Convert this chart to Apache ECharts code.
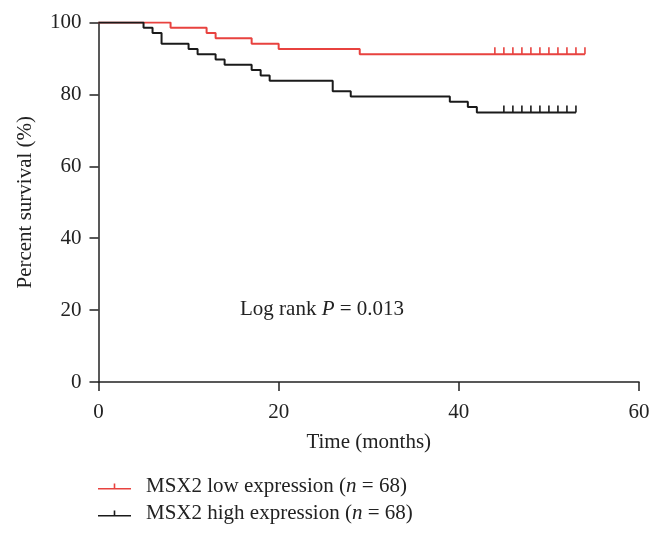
<!DOCTYPE html>
<html>
<head>
<meta charset="utf-8">
<script src="https://cdn.jsdelivr.net/npm/echarts@6/dist/echarts.min.js"></script>
<style>html,body{margin:0;padding:0;background:#fff}#c{width:662px;height:534px}</style>
</head>
<body>
<div id="c"></div>
<script>
// ---- data ----
const lowTimes = [0, 8, 12, 13, 17, 20, 29, 54];
const lowSurv  = [100, 98.53, 97.06, 95.59, 94.12, 92.65, 91.18, 91.18];
const lowCensor = [44, 45, 46, 47, 48, 49, 50, 51, 52, 53, 54];

const highTimes = [0, 5, 6, 7, 10, 11, 13, 14, 17, 18, 19, 26, 28, 39, 41, 42, 53];
const highSurv  = [100, 98.53, 97.06, 94.12, 92.65, 91.18, 89.71, 88.24, 86.76, 85.29, 83.82, 80.88, 79.41, 77.94, 76.47, 75.0, 75.0];
const highCensor = [45, 46, 47, 48, 49, 50, 51, 52, 53];

const xTicks = [0, 20, 40, 60];
const yTicks = [0, 20, 40, 60, 80, 100];
const seriesNames = ['MSX2 low expression ({i|n} = 68)', 'MSX2 high expression ({i|n} = 68)'];

// ---- helpers ----
const FONT = 'Liberation Serif';
const FS = 21;
const RED = '#e8423f', BLACK = '#1a1a1a', AXIS = '#222';
function pairs(t, s) { return t.map((v, i) => [v, s[i]]); }
function survAt(t, times, surv) {
  let v = surv[0];
  for (let i = 0; i < times.length; i++) if (times[i] <= t) v = surv[i];
  return v;
}
function censorData(c, times, surv) { return c.map(t => [t, survAt(t, times, surv)]); }
function tickRender(color) {
  return function (params, api) {
    const p = api.coord([api.value(0), api.value(1)]);
    return { type: 'line', shape: { x1: p[0], y1: p[1], x2: p[0], y2: p[1] - 7 },
             style: { stroke: color, lineWidth: 1.6 } };
  };
}
const iconPath = 'path://M0,4.4L33,4.4L33,6L0,6Z M15.7,0L17.3,0L17.3,4.4L15.7,4.4Z';

const chart = echarts.init(document.getElementById('c'), null, { renderer: 'canvas' });
chart.setOption({
  animation: false,
  backgroundColor: '#fff',
  grid: { left: 98.5, right: 23, top: 22.5, bottom: 152, containLabel: false },
  xAxis: {
    type: 'value', min: xTicks[0], max: xTicks[xTicks.length - 1], interval: 20,
    name: 'Time (months)', nameLocation: 'middle', nameGap: 50,
    nameTextStyle: { fontFamily: FONT, fontSize: FS, color: AXIS },
    axisLine: { onZero: false, lineStyle: { color: AXIS, width: 1.5 } },
    axisTick: { show: true, length: 9, lineStyle: { color: AXIS, width: 1.5 } },
    axisLabel: { margin: 20, fontFamily: FONT, fontSize: FS, color: AXIS },
    splitLine: { show: false }
  },
  yAxis: {
    type: 'value', min: yTicks[0], max: yTicks[yTicks.length - 1], interval: 20,
    name: 'Percent survival (%)', nameLocation: 'middle', nameGap: 63, nameRotate: 90,
    nameTextStyle: { fontFamily: FONT, fontSize: FS, color: AXIS },
    axisLine: { show: true, onZero: false, lineStyle: { color: AXIS, width: 1.5 } },
    axisTick: { show: true, length: 9, lineStyle: { color: AXIS, width: 1.5 } },
    axisLabel: { margin: 17, fontFamily: FONT, fontSize: FS, color: AXIS },
    splitLine: { show: false }
  },
  legend: {
    data: [seriesNames[0], seriesNames[1]],
    orient: 'vertical', left: 93, top: 471, itemGap: 6,
    itemWidth: 33, itemHeight: 6, icon: iconPath,
    itemStyle: { borderWidth: 0 },
    textStyle: { fontFamily: FONT, fontSize: FS, color: AXIS, padding: [0, 0, 0, 10],
                 rich: { i: { fontFamily: FONT, fontSize: FS, fontStyle: 'italic', color: AXIS } } },
    selectedMode: false
  },
  graphic: [{
    type: 'text', x: 240, y: 309,
    style: {
      text: 'Log rank {i|P} = 0.013', fontFamily: FONT, fontSize: FS, fill: AXIS,
      verticalAlign: 'middle',
      rich: { i: { fontFamily: FONT, fontSize: FS, fontStyle: 'italic', fill: AXIS } }
    }
  }],
  series: [
    { name: seriesNames[0], type: 'line', step: 'end', data: pairs(lowTimes, lowSurv),
      color: RED, symbol: 'none', lineStyle: { color: RED, width: 2 }, z: 2 },
    { name: seriesNames[1], type: 'line', step: 'end', data: pairs(highTimes, highSurv),
      color: BLACK, symbol: 'none', lineStyle: { color: BLACK, width: 2 }, z: 3 },
    { name: 'lowCensor', type: 'custom', data: censorData(lowCensor, lowTimes, lowSurv),
      renderItem: tickRender(RED), z: 2 },
    { name: 'highCensor', type: 'custom', data: censorData(highCensor, highTimes, highSurv),
      renderItem: tickRender(BLACK), z: 3 }
  ]
});
</script>
</body>
</html>
